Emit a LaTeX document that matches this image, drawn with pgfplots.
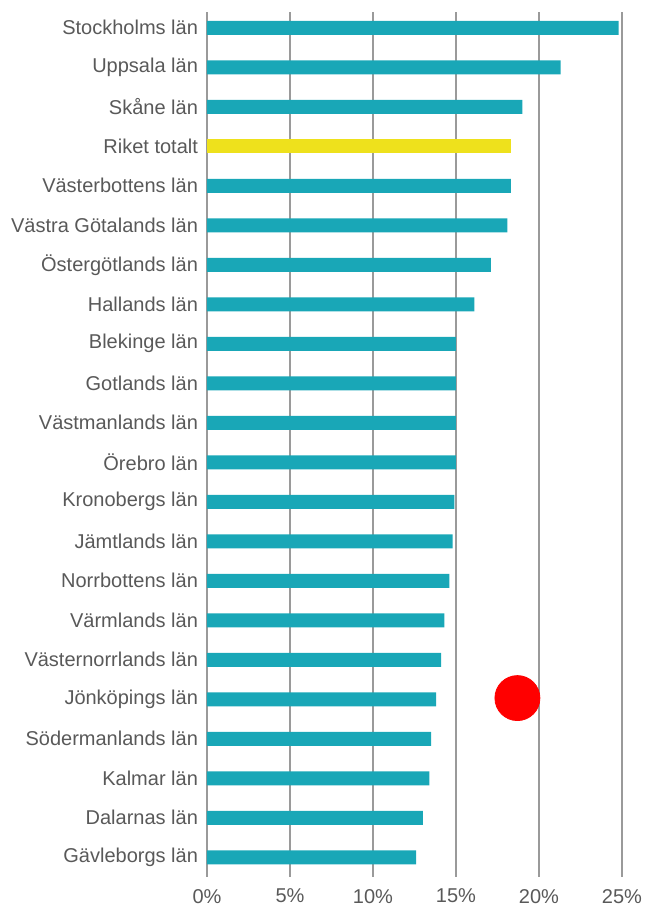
\documentclass[border=0pt]{standalone}
\usepackage{fontspec}
\setmainfont{Liberation Sans}
\usepackage{pgfplots}
\pgfplotsset{compat=1.18}
\definecolor{barteal}{HTML}{19A7B7}
\definecolor{baryellow}{HTML}{EEE11C}
\definecolor{labgray}{HTML}{595959}
\definecolor{gridgray}{HTML}{9A9A9A}
\begin{document}
\begin{tikzpicture}
\path[use as bounding box] (-103.5pt,-17.5pt) rectangle (222.5pt,438.5pt);
\begin{axis}[at={(0,0)},anchor=south west,scale only axis,
  width=207.5pt,height=432.5pt,
  xmin=0,xmax=25,ymin=-0.4,ymax=21.5,y dir=reverse,
  bar width=7pt,
  axis line style={draw=none},
  major tick length=0pt,
  xmajorgrids,grid style={gridgray,line width=0.6pt},
  xtick={0,5,10,15,20,25},
  xticklabel={\pgfmathprintnumber{\tick}\%},
  /pgf/number format/assume math mode=true,
  ytick={0,...,21},
  yticklabels={Stockholms län,Uppsala län,Skåne län,Riket totalt,Västerbottens län,Västra Götalands län,Östergötlands län,Hallands län,Blekinge län,Gotlands län,Västmanlands län,Örebro län,Kronobergs län,Jämtlands län,Norrbottens län,Värmlands län,Västernorrlands län,Jönköpings län,Södermanlands län,Kalmar län,Dalarnas län,Gävleborgs län},
  ticklabel style={font=\fontsize{10}{12}\selectfont,text=labgray},
  xticklabel style={font=\fontsize{10}{12}\selectfont,yshift=-2.5pt},
  yticklabel style={xshift=-1pt},
]
\addplot[xbar,bar shift=0pt,fill=barteal,draw=none] coordinates {
 (24.8,0) (21.3,1) (19.0,2) (18.3,4) (18.1,5) (17.1,6) (16.1,7)
 (15.0,8) (15.0,9) (15.0,10) (15.0,11) (14.9,12) (14.8,13) (14.6,14)
 (14.3,15) (14.1,16) (13.8,17) (13.5,18) (13.4,19) (13.0,20) (12.6,21) };
\addplot[xbar,bar shift=0pt,fill=baryellow,draw=none] coordinates {(18.3,3)};
\addplot[only marks,mark=*,mark size=11.25pt,red,mark options={draw=none,fill=red}] coordinates {(18.7,16.97)};
\end{axis}
\end{tikzpicture}
\end{document}
